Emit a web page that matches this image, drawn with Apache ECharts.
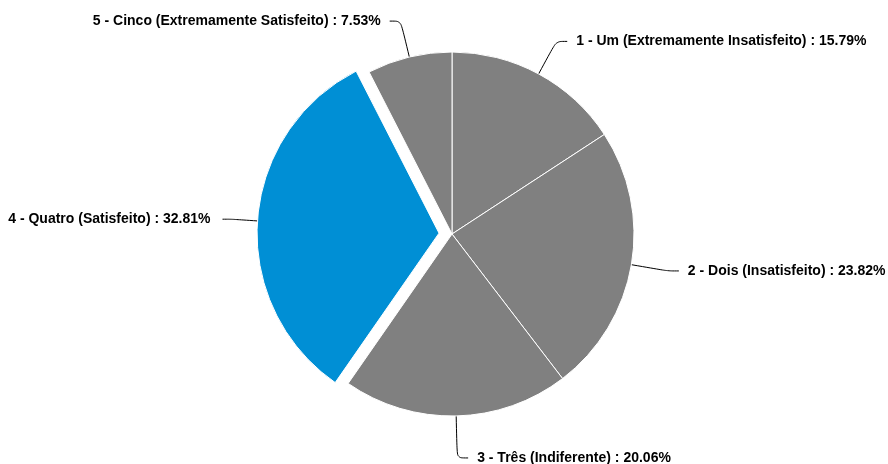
<!DOCTYPE html>
<html><head><meta charset="utf-8">
<script src="https://cdn.jsdelivr.net/npm/echarts@6/dist/echarts.min.js"></script>
<style>html,body{margin:0;padding:0;background:#fff}#c{width:888px;height:464px}</style>
</head><body><div id="c"></div>
<script>
const categories = [
  '1 - Um (Extremamente Insatisfeito)',
  '2 - Dois (Insatisfeito)',
  '3 - Três (Indiferente)',
  '4 - Quatro (Satisfeito)',
  '5 - Cinco (Extremamente Satisfeito)'
];
const values = [15.79, 23.82, 20.06, 32.81, 7.53];
const selectedIndex = 3;

const labelTweaks = [
  {label: {padding: [8, 0, 0, 0]}},
  {label: {padding: [8, 0, 0, 0]}},
  {labelLine: {length: 42}},
  {label: {padding: [8, 0, 0, 0], distanceToLabelLine: 12}, labelLine: {length: 26, length2: 9}},
  {}
];

const chart = echarts.init(document.getElementById('c'), null, {renderer: 'canvas'});
chart.setOption({
  animation: false,
  series: [{
    type: 'pie',
    center: [452, 234],
    radius: 182,
    startAngle: 90,
    clockwise: true,
    selectedMode: 'single',
    selectedOffset: 13,
    avoidLabelOverlap: false,
    data: categories.map((n, i) => Object.assign({
      name: n,
      value: values[i],
      selected: i === selectedIndex,
      itemStyle: {color: i === selectedIndex ? '#008fd5' : '#808080'}
    }, labelTweaks[i])),
    itemStyle: {borderColor: '#fff', borderWidth: 1},
    label: {
      formatter: p => p.name + ' : ' + p.value.toFixed(2) + '%',
      color: '#000',
      fontWeight: 'bold',
      fontSize: 14,
      distanceToLabelLine: 9,
      fontFamily: '"Liberation Sans", Arial, sans-serif'
    },
    labelLine: {
      length: 37,
      length2: 11,
      smooth: 0.3,
      lineStyle: {color: '#000', width: 1}
    },
    emphasis: {disabled: true}
  }]
});
</script></body></html>
